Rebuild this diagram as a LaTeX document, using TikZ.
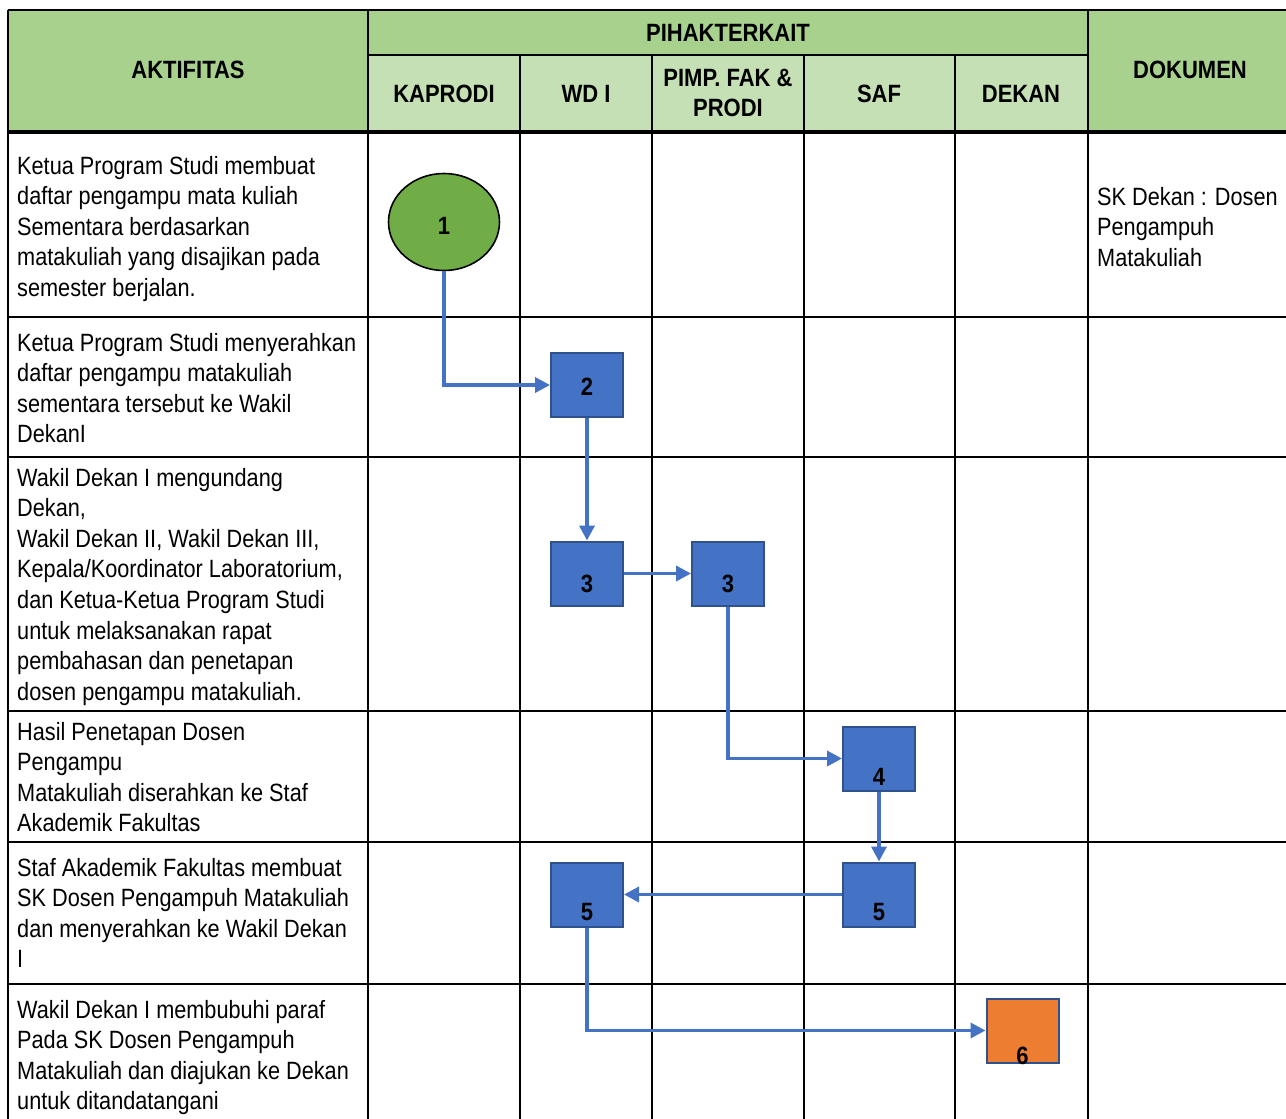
\documentclass[tikz,border=0pt]{standalone}
\usepackage{fontspec}
\setmainfont{Liberation Sans}[FakeStretch=0.868, BoldFeatures={FakeStretch=0.88}]
\usetikzlibrary{shapes.geometric,arrows.meta}
\definecolor{hdr}{HTML}{A9D18E}
\definecolor{subhdr}{HTML}{C5E0B4}
\definecolor{boxblue}{HTML}{4472C4}
\definecolor{boxedge}{HTML}{2F528F}
\definecolor{startgreen}{HTML}{70AD47}
\definecolor{endorange}{HTML}{ED7D31}
\tikzset{
  grid/.style={line width=2.2pt, black},
  hdrtext/.style={font=\bfseries\fontsize{25}{30.6}\selectfont, inner sep=0pt, align=center},
  bodytext/.style={font=\fontsize{25}{30.6}\selectfont, inner sep=0pt, anchor=base west},
  stepbox/.style={draw=boxedge, fill=boxblue, line width=2pt, minimum width=72pt, minimum height=64pt, inner sep=0pt},
  endbox/.style={stepbox, fill=endorange},
  startnode/.style={ellipse, draw=black, fill=startgreen, line width=1.6pt, minimum width=111pt, minimum height=97pt, inner sep=0pt},
  numtext/.style={font=\bfseries\fontsize{25}{30}\selectfont, inner sep=0pt},
  flow/.style={draw=boxblue, line width=3.5pt, -{Triangle[length=15pt,width=15pt]}},
}
\begin{document}
\begin{tikzpicture}[x=1pt,y=-1pt]
\useasboundingbox (0,0) rectangle (1286,1119);
\begin{scope}
\clip (0,0) rectangle (1286,1119);
% header fills
\fill[hdr] (8,10) rectangle (1300,133);
\fill[subhdr] (368,55) rectangle (1088,133);
% grid lines
\draw[line width=2.6pt] (8,10) -- (1300,10);
\draw[line width=2.6pt] (8,10) -- (8,1130);
\draw[grid] (368,10) -- (368,1130);
\draw[grid] (1088,10) -- (1088,1130);
\draw[grid] (368,55) -- (1088,55);
\foreach \x in {520,652,804,955} \draw[grid] (\x,55) -- (\x,1130);
\draw[line width=4pt] (8,132) -- (1300,132);
\foreach \y in {317,457,711,842,984} \draw[grid] (8,\y) -- (1300,\y);
\end{scope}
% header texts
\node[hdrtext] (hA) at (188,70) {AKTIFITAS};
\node[hdrtext] (hP) at (728,33) {PIHAKTERKAIT};
\node[hdrtext] (hD) at (1190,70) {DOKUMEN};
\node[hdrtext] (hK) at (444,94) {KAPRODI};
\node[hdrtext] (hW) at (586,94) {WD I};
\node[hdrtext] (hF) at (728,93) {PIMP. FAK \&\\PRODI};
\node[hdrtext] (hS) at (879,94) {SAF};
\node[hdrtext] (hDk) at (1021,94) {DEKAN};
% activity texts
\foreach \t [count=\i from 0] in {Ketua Program Studi membuat, daftar pengampu mata kuliah, Sementara berdasarkan, matakuliah yang disajikan pada, semester berjalan.}
  \node[bodytext] (ra\i) at (17,174+\i*30.6) {\t};
\foreach \t [count=\i from 0] in {Ketua Program Studi menyerahkan, daftar pengampu matakuliah, sementara tersebut ke Wakil, DekanI}
  \node[bodytext] (rb\i) at (17,351+\i*30.6) {\t};
\foreach \t [count=\i from 0] in {Wakil Dekan I mengundang, {Dekan,}, {Wakil Dekan II, Wakil Dekan III,}, {Kepala/Koordinator Laboratorium,}, dan Ketua-Ketua Program Studi, untuk melaksanakan rapat, pembahasan dan penetapan, dosen pengampu matakuliah.}
  \node[bodytext] (rc\i) at (17,486+\i*30.6) {\t};
\foreach \t [count=\i from 0] in {Hasil Penetapan Dosen, Pengampu, Matakuliah diserahkan ke Staf, Akademik Fakultas}
  \node[bodytext] (rd\i) at (17,740+\i*30.6) {\t};
\foreach \t [count=\i from 0] in {Staf Akademik Fakultas membuat, SK Dosen Pengampuh Matakuliah, dan menyerahkan ke Wakil Dekan, I}
  \node[bodytext] (re\i) at (17,876+\i*30.6) {\t};
\foreach \t [count=\i from 0] in {Wakil Dekan I membubuhi paraf, Pada SK Dosen Pengampuh, Matakuliah dan diajukan ke Dekan, untuk ditandatangani}
  \node[bodytext] (rf\i) at (17,1018+\i*30.6) {\t};
% document texts
\foreach \t [count=\i from 0] in {SK Dekan : Dosen, Pengampuh, Matakuliah}
  \node[bodytext] (dk\i) at (1097,205+\i*30.6) {\t};
% flow shapes
\node[startnode] (e1) at (444,222) {};
\node[stepbox] (b2) at (587,385) {};
\node[stepbox] (b3a) at (587,573.5) {};
\node[stepbox] (b3b) at (728,573.5) {};
\node[stepbox] (b4) at (879,758.5) {};
\node[stepbox] (b5b) at (879,894.5) {};
\node[stepbox] (b5a) at (587,894.5) {};
\node[endbox] (b6) at (1022.5,1030.5) {};
% numbers
\node[numtext] (n1) at ([yshift=-4pt]e1.center) {1};
\node[numtext] (n2) at ([yshift=-2pt]b2.center) {2};
\node[numtext] (n3a) at ([yshift=-10pt]b3a.center) {3};
\node[numtext] (n3b) at ([yshift=-10pt]b3b.center) {3};
\node[numtext] (n4) at ([yshift=-18pt]b4.center) {4};
\node[numtext] (n5b) at ([yshift=-18pt]b5b.center) {5};
\node[numtext] (n5a) at ([yshift=-18pt]b5a.center) {5};
\node[numtext] (n6) at ([yshift=-25pt]b6.center) {6};
% connectors
\draw[flow] (e1.south) |- (b2.west);
\draw[flow] (b2.south) -- (b3a.north);
\draw[flow] (b3a.east) -- (b3b.west);
\draw[flow] (b3b.south) |- (b4.west);
\draw[flow] (b4.south) -- (b5b.north);
\draw[flow] (b5b.west) -- (b5a.east);
\draw[flow] (b5a.south) |- (b6.west);
\end{tikzpicture}
\end{document}
